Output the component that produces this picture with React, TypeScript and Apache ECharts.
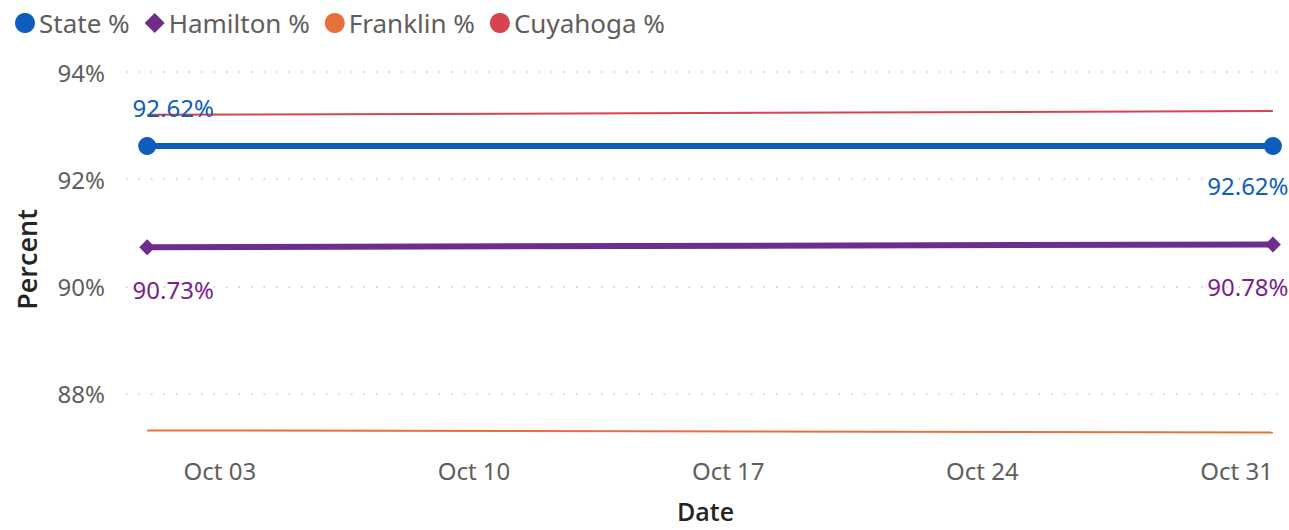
import React, { useEffect, useRef } from "react";
import * as echarts from "echarts";

const dates = ["2021-10-01", "2021-11-01"];
const stateVals = [92.62, 92.62];
const hamiltonVals = [90.73, 90.78];
const franklinVals = [87.31, 87.27];
const cuyahogaVals = [93.2, 93.27];
const xTickDates = ["2021-10-03", "2021-10-10", "2021-10-17", "2021-10-24", "2021-10-31"];
const monthNames = ["Jan", "Feb", "Mar", "Apr", "May", "Jun", "Jul", "Aug", "Sep", "Oct", "Nov", "Dec"];

const toTs = (s: string) => {
  const [y, m, d] = s.split("-").map(Number);
  return new Date(y, m - 1, d).getTime();
};

const FONT = "'Noto Sans', 'Open Sans', sans-serif";
const TITLE_FONT = "'Open Sans', 'Noto Sans', sans-serif";
const HOUR = 3600 * 1000;

export default function App() {
  const ref = useRef<HTMLDivElement>(null);
  useEffect(() => {
    if (!ref.current) return;
    const chart = echarts.init(ref.current, undefined, { renderer: "svg" });
    const xs = dates.map(toTs);
    const pair = (vals: number[]) => xs.map((x, i) => [x, vals[i]]);
    const fmt = (v: number) => v.toFixed(2) + "%";

    const stateData = pair(stateVals).map((p, i) => ({
      value: p,
      label:
        i === 0
          ? { show: true, position: "top", distance: 5, offset: [26, -12] }
          : { show: true, position: "bottom", distance: 5, offset: [-25, 14] },
    }));
    const hamData = pair(hamiltonVals).map((p, i) => ({
      value: p,
      label:
        i === 0
          ? { show: true, position: "bottom", distance: 5, offset: [26, 17] }
          : { show: true, position: "bottom", distance: 5, offset: [-25, 17] },
    }));

    chart.setOption({
      animation: false,
      textStyle: { fontFamily: FONT },
      legend: {
        left: 10,
        top: 5,
        itemWidth: 20,
        itemHeight: 20,
        itemGap: 15,
        textStyle: { fontSize: 26, color: "#605E5C", fontFamily: FONT, padding: [0, 0, 0, -1] },
        data: [
          { name: "State %", icon: "circle" },
          { name: "Hamilton %", icon: "diamond" },
          { name: "Franklin %", icon: "circle" },
          { name: "Cuyahoga %", icon: "circle" },
        ],
      },
      grid: { left: 126, right: 4, top: 72, bottom: 83, containLabel: false, outerBoundsMode: "none" },
      xAxis: {
        type: "value",
        min: toTs("2021-10-01") - 14 * HOUR,
        max: toTs("2021-11-01") + 8 * HOUR,
        name: "Date",
        nameLocation: "middle",
        nameGap: 53,
        nameTextStyle: { fontSize: 25, lineHeight: 22, color: "#252423", fontWeight: 600, fontFamily: TITLE_FONT },
        axisLine: { show: false },
        axisTick: { show: false, customValues: xTickDates.map(toTs) },
        splitLine: { show: false },
        axisLabel: {
          customValues: xTickDates.map(toTs),
          fontSize: 24,
          color: "#605E5C",
          margin: 11,
          formatter: (v: number) => {
            const d = new Date(v);
            const dd = d.getDate();
            return monthNames[d.getMonth()] + " " + (dd < 10 ? "0" + dd : "" + dd);
          },
        },
      },
      yAxis: {
        type: "value",
        min: 87,
        max: 94,
        interval: 1,
        name: "Percent",
        nameLocation: "middle",
        nameGap: 86,
        nameTextStyle: { fontSize: 27, color: "#252423", fontWeight: 600, fontFamily: TITLE_FONT },
        axisLine: { show: false },
        axisTick: { show: false },
        axisLabel: {
          fontSize: 24,
          color: "#605E5C",
          margin: 21,
          formatter: (v: number) => (Math.round(v) % 2 === 0 ? v + "%" : ""),
        },
        splitLine: {
          show: true,
          lineStyle: { color: ["rgba(0,0,0,0)", "#C8C6C4"], width: 1.5, type: [1.5, 11] },
        },
      },
      series: [
        {
          name: "Cuyahoga %",
          type: "line",
          data: pair(cuyahogaVals),
          showSymbol: false,
          symbol: "circle",
          color: "#D9434E",
          lineStyle: { width: 2, color: "#D9434E" },
          z: 2,
        },
        {
          name: "Franklin %",
          type: "line",
          data: pair(franklinVals),
          showSymbol: false,
          symbol: "circle",
          color: "#E8703A",
          lineStyle: { width: 2, color: "#E8703A" },
          z: 2,
        },
        {
          name: "Hamilton %",
          type: "line",
          data: hamData,
          symbol: "diamond",
          symbolSize: 16,
          color: "#6E2C8C",
          lineStyle: { width: 6, color: "#6E2C8C" },
          label: { formatter: (p: any) => fmt(p.value[1]), color: "#7A1E8E", fontSize: 24, fontFamily: FONT },
          z: 3,
        },
        {
          name: "State %",
          type: "line",
          data: stateData,
          symbol: "circle",
          symbolSize: 18,
          color: "#0C5DBE",
          lineStyle: { width: 6, color: "#0C5DBE" },
          label: { formatter: (p: any) => fmt(p.value[1]), color: "#0C5DBE", fontSize: 24, fontFamily: FONT },
          z: 4,
        },
      ],
    });
    return () => chart.dispose();
  }, []);
  return <div ref={ref} style={{ position: "absolute", left: 0, top: 0, width: 1289, height: 530 }} />;
}
